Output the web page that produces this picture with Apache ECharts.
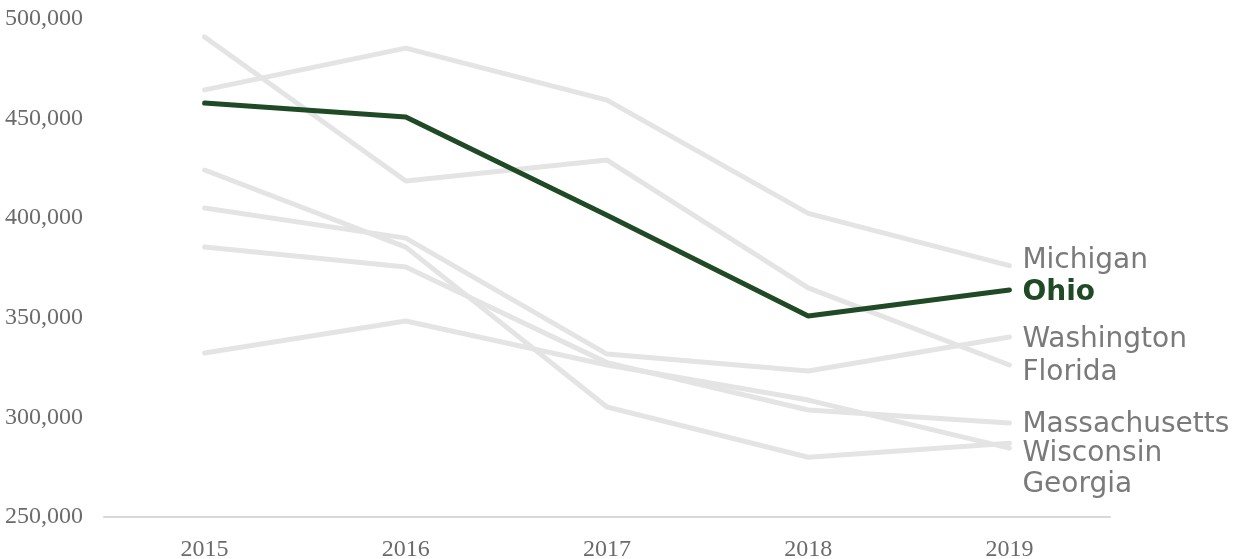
<!DOCTYPE html>
<html>
<head>
<meta charset="utf-8">
<script src="https://cdn.jsdelivr.net/npm/echarts@6/dist/echarts.min.js"></script>
<style>
  html, body { margin: 0; padding: 0; background: #fff; }
  #chart { width: 1239px; height: 559px; }
</style>
</head>
<body>
<div id="chart"></div>
<script>
// data
var years = ['2015', '2016', '2017', '2018', '2019'];

var michigan = [464400, 485400, 459300, 402400, 376200];
var florida = [491000, 418700, 429200, 365000, 326300];
var washington = [405100, 390000, 331800, 323300, 340400];
var massachusetts = [385500, 375500, 327500, 303700, 297200];
var wisconsin = [424200, 385500, 305200, 280000, 287000];
var georgia = [332300, 348400, 326300, 308700, 284600];
var ohio = [457800, 450800, 401500, 350900, 364000];

// end labels are nudged apart by hand, like in the original
var greyStates = [
    {name: 'Michigan', data: michigan, dy: -5},
    {name: 'Florida', data: florida, dy: 8},
    {name: 'Washington', data: washington, dy: 3},
    {name: 'Massachusetts', data: massachusetts, dy: 2},
    {name: 'Wisconsin', data: wisconsin, dy: 10},
    {name: 'Georgia', data: georgia, dy: 37}
];

var GREEN = '#1f4a25';
var GREY_LINE = '#e4e4e4';
var GREY_TEXT = '#7a7a7a';

function endLabel(color, bold, dy) {
    return {
        show: true,
        formatter: '{a}',
        distance: 13,
        offset: [0, dy],
        color: color,
        fontWeight: bold ? 'bold' : 'normal',
        fontFamily: 'DejaVu Sans',
        fontSize: 28
    };
}

var series = greyStates.map(function (s) {
    return {
        name: s.name,
        type: 'line',
        data: s.data,
        symbol: 'none',
        silent: true,
        z: 2,
        lineStyle: {color: GREY_LINE, width: 5, cap: 'round'},
        endLabel: endLabel(GREY_TEXT, false, s.dy)
    };
});

series.push({
    name: 'Ohio',
    type: 'line',
    data: ohio,
    symbol: 'none',
    silent: true,
    z: 5,
    lineStyle: {color: GREEN, width: 5, cap: 'round'},
    endLabel: endLabel(GREEN, true, 3)
});

var chart = echarts.init(document.getElementById('chart'));
chart.setOption({
    animation: false,
    backgroundColor: '#fff',
    grid: {left: 104, right: 129, top: 19, bottom: 42, outerBoundsMode: 'none', containLabel: false},
    xAxis: {
        type: 'category',
        data: years,
        boundaryGap: true,
        axisLine: {lineStyle: {color: '#d9d9d9', width: 2}},
        axisTick: {show: false},
        axisLabel: {
            color: '#6b6b6b',
            fontFamily: 'Liberation Serif',
            fontSize: 24,
            margin: 21
        }
    },
    yAxis: {
        type: 'value',
        min: 250000,
        max: 500000,
        interval: 50000,
        splitLine: {show: false},
        axisLine: {show: false},
        axisTick: {show: false},
        axisLabel: {
            color: '#6b6b6b',
            fontFamily: 'Liberation Serif',
            fontSize: 24,
            align: 'left',
            margin: 99,
            formatter: function (v) { return v.toLocaleString('en-US'); }
        }
    },
    series: series
});
</script>
</body>
</html>
